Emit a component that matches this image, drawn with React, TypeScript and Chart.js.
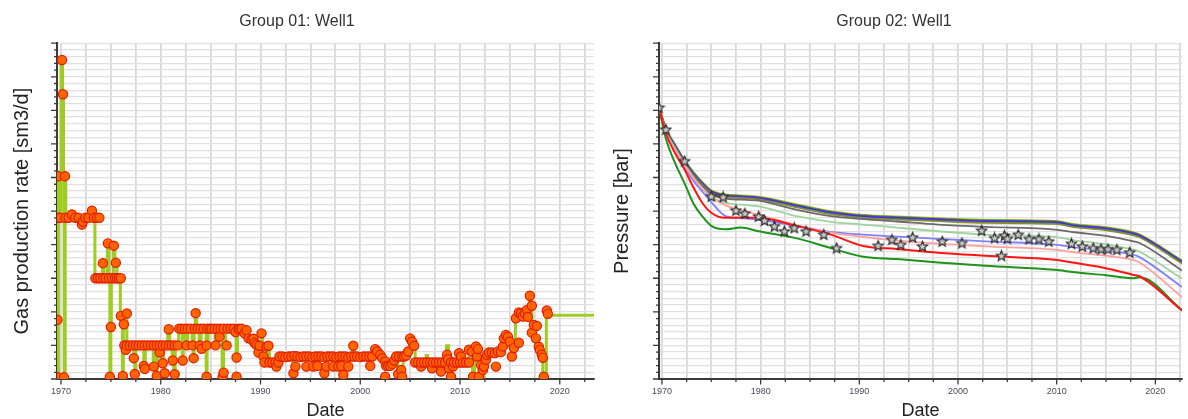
import React, { useEffect, useRef } from 'react';
import { Chart, registerables } from 'chart.js';

Chart.register(...registerables);

// ---------- Left chart: Group 01 gas production rate ----------
const leftTitle = 'Group 01: Well1';
const leftYTitle = 'Gas production rate [sm3/d]';
const xTitle = 'Date';

// history (start year, rate) held until the next entry
const rateHistory: [number, number][] = [
  [1969.6, 17.6], [1969.68, 0], [1969.74, 60], [1969.82, 48], [1970.0, 95], [1970.15, 85], [1970.25, 60],
  [1970.32, 0], [1970.42, 60], [1970.48, 48], [1972.1, 46], [1972.25, 48], [1973.05, 50], [1973.2, 48],
  [1973.4, 30], [1974.15, 34.5], [1974.3, 30], [1974.65, 40.4], [1974.8, 30], [1974.9, 0], [1975.0, 15.5],
  [1975.05, 30], [1975.25, 39.7], [1975.4, 34.6], [1975.6, 30], [1975.95, 18.8], [1976.15, 0], [1976.25, 16.3],
  [1976.45, 19.5], [1976.6, 10], [1977.3, 6], [1977.4, 0], [1977.5, 10], [1978.3, 3.5], [1978.45, 10],
  [1979.25, 3.7], [1979.35, 10], [1979.55, 0], [1979.65, 10], [1979.85, 7.9], [1979.95, 10], [1980.15, 4.7],
  [1980.3, 10], [1980.7, 14.8], [1980.9, 10], [1981.15, 5.5], [1981.3, 0], [1981.45, 10], [1981.8, 15],
  [1982.15, 5.5], [1982.25, 15], [1982.55, 10], [1982.7, 15], [1983.15, 10], [1983.25, 6.2], [1983.35, 15],
  [1983.45, 19.6], [1983.6, 15], [1983.85, 10], [1984.05, 15], [1984.55, 0.7], [1984.65, 10], [1984.75, 15],
  [1985.45, 10], [1985.6, 15], [1985.85, 12.6], [1986.0, 15], [1986.15, 0.7], [1986.3, 10], [1986.5, 15],
  [1987.55, 6.4], [1987.7, 15], [1988.3, 14.5], [1988.5, 13.5], [1988.8, 12.1], [1989.1, 11.8], [1989.4, 10.7],
  [1989.7, 7.9], [1989.8, 9.9], [1990.05, 13.6], [1990.2, 5], [1990.7, 9.7], [1990.9, 5], [1991.9, 6.7],
  [1993.25, 1.7], [1993.4, 6.7], [1999.25, 9.9], [1999.4, 6.7], [2001.4, 8.9], [2001.8, 7.2], [2002.2, 5.2],
  [2002.5, 3.9], [2003.5, 6.7], [2003.75, 1.5], [2003.9, 2.7], [2004.15, 0.7], [2004.3, 6.7], [2004.75, 8.2],
  [2004.95, 12.1], [2005.15, 11.1], [2005.3, 9.9], [2005.5, 5], [2006.6, 7], [2006.75, 5], [2008.65, 9.9],
  [2008.85, 5], [2009.8, 7.7], [2010.1, 5], [2010.9, 8.7], [2011.25, 0.7], [2011.45, 9.7], [2011.8, 8.9],
  [2011.9, 0.7], [2012.05, 4.2], [2012.3, 0.7], [2012.4, 7.2], [2012.9, 7.9], [2014.25, 9.7], [2014.4, 12.1],
  [2014.7, 13.1], [2015.0, 11.1], [2015.55, 18.1], [2015.85, 19.8], [2016.3, 18.6], [2016.6, 20.6],
  [2016.95, 24.8], [2017.1, 21.8], [2017.2, 13.8], [2017.4, 16.1], [2017.6, 12.1], [2017.85, 9.6],
  [2018.0, 8.6], [2018.15, 7.2], [2018.3, 0.7], [2018.65, 20.4], [2018.85, 19], [2023.43, 19],
];

// observed rate points (year, rate)
const rateObserved: [number, number][] = [
  [1969.65, 17.6], [1969.7, 0.5], [1969.75, 60.4], [1969.78, 48], [1969.93, 48], [1970.1, 95], [1970.2, 84.8],
  [1970.3, 0.5], [1970.4, 60.4], [1970.45, 48], [1970.76, 48], [1971.1, 49], [1971.43, 48], [1971.76, 48],
  [1972.1, 46], [1972.2, 46.9], [1972.43, 48], [1972.76, 48], [1973.1, 50.1], [1973.3, 48], [1973.6, 48],
  [1973.85, 48],
  [1973.45, 30], [1973.7, 30], [1973.95, 30], [1974.2, 34.5], [1974.25, 30], [1974.5, 30], [1974.7, 40.4],
  [1974.8, 30], [1974.9, 0.7], [1975.0, 15.5], [1975.1, 30], [1975.3, 39.7], [1975.4, 30], [1975.5, 34.6],
  [1975.6, 30], [1975.8, 30], [1976.0, 30], [1976.0, 18.8], [1976.2, 0.9], [1976.3, 16.3], [1976.6, 19.5],
  [1976.35, 10], [1976.5, 8.7], [1976.6, 10], [1976.9, 10], [1977.2, 10], [1977.3, 6.2], [1977.4, 1.5],
  [1977.5, 10], [1977.8, 10], [1978.1, 10], [1978.3, 3.9], [1978.4, 3.0], [1978.4, 10], [1978.7, 10],
  [1979.0, 10], [1979.3, 10], [1979.3, 3.7], [1979.6, 0.9], [1979.6, 10], [1979.9, 7.9], [1979.9, 10],
  [1980.2, 10], [1980.2, 4.7], [1980.4, 1.7], [1980.5, 10], [1980.8, 14.8], [1980.8, 10], [1981.1, 10],
  [1981.2, 5.5], [1981.4, 1.4], [1981.4, 10], [1981.7, 10],
  [1981.85, 15], [1982.1, 15], [1982.2, 5.5], [1982.4, 15], [1982.6, 10], [1982.7, 15], [1983.0, 15],
  [1983.2, 10], [1983.3, 6.2], [1983.4, 15], [1983.5, 19.6], [1983.7, 15], [1983.9, 10], [1984.0, 15],
  [1984.1, 9.0], [1984.3, 15], [1984.6, 10], [1984.6, 0.7], [1984.65, 15], [1984.9, 15], [1985.1, 15],
  [1985.4, 15], [1985.5, 10], [1985.7, 15], [1985.9, 12.6], [1986.0, 15], [1986.2, 0.7], [1986.3, 15],
  [1986.3, 1.9], [1986.6, 10], [1986.7, 15], [1987.0, 15], [1987.3, 15], [1987.5, 14], [1987.6, 6.4],
  [1987.6, 0.7], [1987.8, 15], [1987.9, 14.8], [1988.1, 15], [1988.4, 13.6], [1988.6, 14.5], [1988.8, 12.1],
  [1989.1, 11.8], [1989.3, 12], [1989.4, 10.7], [1989.6, 10.2], [1989.8, 7.9], [1989.9, 9.9], [1990.1, 13.6],
  [1990.3, 6.7], [1990.6, 9.7], [1990.4, 4.9], [1990.8, 9.9], [1990.9, 4.9], [1991.2, 4.9], [1991.5, 4.9],
  [1991.6, 3.7], [1991.8, 4.9],
  [1991.9, 6.7], [1992.2, 6.7], [1992.5, 6.5], [1992.8, 6.7], [1993.1, 6.7], [1993.3, 1.7], [1993.4, 6.9],
  [1993.5, 3.7], [1993.7, 6.7], [1994.0, 6.5], [1994.3, 6.7], [1994.6, 3.7], [1994.6, 6.7], [1994.9, 6.7],
  [1995.2, 6.5], [1995.3, 3.7], [1995.5, 6.7], [1995.7, 3.9], [1995.8, 6.7], [1996.1, 6.7], [1996.4, 1.7],
  [1996.4, 6.5], [1996.6, 3.7], [1996.7, 6.7], [1997.0, 6.7], [1997.3, 3.7], [1997.3, 6.7], [1997.6, 6.5],
  [1997.8, 3.7], [1997.9, 6.7], [1998.1, 3.9], [1998.2, 6.7], [1998.3, 1.2], [1998.5, 6.7], [1998.8, 3.7],
  [1998.8, 6.5], [1999.1, 6.7], [1999.3, 9.9], [1999.4, 6.7], [1999.7, 6.7], [2000.0, 6.5], [2000.3, 6.7],
  [2000.6, 6.7], [2000.9, 6.7], [2001.0, 3.9], [2001.2, 6.7], [2001.5, 8.9], [2001.7, 8.2], [2002.0, 7.2],
  [2002.2, 6.2], [2002.5, 5.2], [2002.6, 3.9], [2002.5, 0.7], [2002.8, 3.9], [2003.0, 3.9], [2003.2, 4.5],
  [2003.4, 5.5], [2003.6, 6.7], [2003.8, 1.5], [2003.9, 6.7], [2004.1, 2.7], [2004.2, 0.7], [2004.2, 6.7],
  [2004.4, 6.7], [2004.6, 7.0], [2004.8, 8.2], [2005.0, 12.1], [2005.2, 11.1], [2005.4, 9.9],
  [2005.5, 4.9], [2005.8, 4.9], [2006.1, 3.7], [2006.1, 4.9], [2006.4, 4.9], [2006.7, 4.9], [2007.0, 4.9],
  [2007.2, 3.2], [2007.3, 4.9], [2007.6, 4.9], [2007.9, 4.9], [2008.1, 2.2], [2008.2, 4.9], [2008.5, 4.9],
  [2008.7, 7.2], [2008.8, 5.9], [2008.9, 3.2], [2009.1, 0.7], [2009.1, 4.9], [2009.3, 3.7], [2009.4, 4.9],
  [2009.7, 4.9], [2009.9, 7.7], [2010.0, 4.9], [2010.1, 6.7], [2010.3, 4.9], [2010.6, 4.9], [2010.9, 8.7],
  [2010.9, 4.9],
  [2011.2, 8.2], [2011.3, 0.7], [2011.6, 9.7], [2011.7, 6.7], [2011.8, 8.9], [2011.9, 0.7], [2012.1, 4.2],
  [2012.3, 2.7], [2012.4, 3.7], [2012.6, 5.7], [2012.7, 7.2], [2012.9, 7.9], [2013.2, 7.9], [2013.5, 7.7],
  [2013.6, 3.7], [2013.8, 8.2], [2014.1, 8.0], [2014.3, 9.7], [2014.4, 12.1], [2014.6, 13.1], [2014.8, 12.6],
  [2015.0, 11.1], [2015.2, 6.7], [2015.4, 9.2], [2015.9, 10.8],
  [2015.6, 18.1], [2015.9, 19.8], [2016.1, 19.5], [2016.3, 18.6], [2016.5, 19.6], [2016.7, 20.6],
  [2016.8, 18.5], [2017.0, 24.8], [2017.2, 21.8], [2017.2, 13.8], [2017.4, 16.1], [2017.7, 15.8],
  [2017.6, 12.1], [2017.9, 9.6], [2018.0, 8.6], [2018.2, 7.2], [2018.3, 6.3], [2018.4, 0.7], [2018.7, 20.4],
  [2018.8, 19.4],
];

// ---------- Right chart: Group 02 pressure ----------
const rightTitle = 'Group 02: Well1';
const rightYTitle = 'Pressure [bar]';

const pressYears = [1969.7, 1970.4, 1971.3, 1972.3, 1973.2, 1974.1, 1975.0, 1976.4, 1978.0, 1979.8, 1983.8,
  1987.1, 1990.4, 1993.8, 1998.0, 2002.8, 2009.8, 2011.8, 2015.0, 2017.8, 2018.4, 2022.7];

const pressYellow = [81.3, 74.7, 70.0, 65.2, 61.6, 58.6, 56.2, 55.0, 54.7, 54.3, 51.9, 50.0, 48.9, 48.4, 47.9, 47.4, 47.1, 46.1, 45.2, 43.7, 43.1, 35.3];
const pressGreenTop = [81.1, 74.5, 69.8, 65.0, 61.4, 58.4, 56.0, 54.8, 54.5, 54.1, 51.7, 49.8, 48.7, 48.2, 47.7, 47.2, 46.9, 45.9, 45.0, 43.5, 42.9, 35.1];
const pressPurple = [80.9, 74.3, 69.6, 64.8, 61.2, 58.2, 55.8, 54.6, 54.3, 53.9, 51.5, 49.6, 48.5, 48.0, 47.5, 47.0, 46.7, 45.7, 44.8, 43.3, 42.7, 34.9];
const pressBlue = [80.8, 74.1, 69.4, 64.6, 61.0, 58.0, 55.6, 54.4, 54.1, 53.7, 51.3, 49.4, 48.3, 47.8, 47.3, 46.8, 46.5, 45.5, 44.6, 43.1, 42.5, 34.7];
const pressOlive = [80.7, 73.9, 69.2, 64.4, 60.8, 57.8, 55.4, 54.2, 53.9, 53.5, 51.0, 49.1, 48.0, 47.5, 47.0, 46.5, 46.2, 45.2, 44.3, 42.8, 42.2, 34.4];
const pressGray = [80.9, 73.9, 69.1, 64.3, 60.6, 57.5, 55.0, 53.7, 53.4, 53.1, 50.3, 48.5, 47.6, 46.9, 46.0, 45.3, 44.5, 43.7, 42.6, 41.0, 40.5, 32.3];
const pressLightGreen = [80.9, 73.7, 68.8, 63.9, 60.0, 56.8, 54.3, 52.5, 51.9, 51.4, 48.4, 46.8, 46.0, 45.1, 44.0, 43.0, 42.3, 41.3, 40.1, 38.5, 37.9, 29.9];
const pressLightBlue = [80.9, 73.4, 68.0, 63.0, 59.0, 55.8, 52.7, 48.6, 47.9, 47.4, 45.5, 43.8, 43.0, 42.4, 41.7, 41.0, 40.0, 39.2, 38.2, 37.0, 36.3, 27.4];
const pressPink = [80.9, 73.4, 68.2, 63.5, 59.8, 56.8, 54.2, 51.8, 50.3, 48.9, 45.7, 43.6, 42.3, 41.2, 40.3, 39.5, 38.5, 37.7, 36.7, 35.4, 34.7, 24.4];
const pressRed = [80.9, 73.2, 67.4, 62.3, 57.0, 52.4, 49.5, 48.0, 48.1, 48.0, 45.5, 43.0, 39.6, 38.7, 37.6, 36.7, 35.5, 34.6, 33.0, 31.0, 30.6, 20.4];
const pressGreen = [80.9, 71.6, 64.5, 58.2, 52.2, 48.4, 45.6, 44.6, 45.1, 44.0, 41.8, 39.0, 36.4, 35.7, 34.7, 33.7, 32.5, 31.8, 30.9, 30.0, 30.3, 20.5];

const pressObsYears = [1969.7, 1970.4, 1972.3, 1975.0, 1976.2, 1977.5, 1978.4, 1979.8, 1980.4, 1981.4, 1982.4,
  1983.4, 1984.6, 1986.4, 1987.7, 1991.9, 1993.3, 1994.2, 1995.4, 1996.4, 1998.4, 2000.4, 2002.4, 2003.7,
  2004.4, 2004.7, 2005.0, 2006.1, 2007.2, 2008.2, 2009.2, 2011.5, 2012.6, 2013.7, 2014.5, 2015.2, 2016.1, 2017.4];
const pressObs = [80.8, 74.3, 64.9, 54.4, 54.2, 50.2, 49.3, 48.4, 47.2, 45.5, 44.0, 45.0, 44.0, 43.0, 39.0, 39.7,
  41.5, 40.0, 42.2, 39.5, 41.0, 40.5, 44.2, 42.0, 36.7, 42.7, 41.8, 43.0, 41.7, 41.7, 41.0, 40.3, 39.5, 39.0,
  38.7, 38.7, 38.5, 37.7];

const FONT = "'Liberation Sans', Arial, sans-serif";

const isDecade = (v: number) => Math.abs(v / 10 - Math.round(v / 10)) < 1e-6;

const tickMarks = {
  id: 'tickMarks',
  afterDraw(chart: any) {
    const { ctx, scales } = chart;
    const x = scales.x;
    const y = scales.y;
    ctx.save();
    ctx.strokeStyle = '#3a3a3a';
    ctx.lineWidth = 1.3;
    ctx.beginPath();
    for (const t of y.ticks) {
      const py = y.getPixelForValue(t.value);
      const len = isDecade(t.value) ? 6 : 3;
      ctx.moveTo(y.right - len, py);
      ctx.lineTo(y.right, py);
    }
    for (const t of x.ticks) {
      const px = x.getPixelForValue(t.value);
      const len = isDecade(t.value) ? 5.5 : 3;
      ctx.moveTo(px, x.top);
      ctx.lineTo(px, x.top + len);
    }
    ctx.stroke();
    ctx.restore();
  },
};

function makeStar(): HTMLCanvasElement {
  const c = document.createElement('canvas');
  c.width = 13;
  c.height = 13;
  const g = c.getContext('2d')!;
  g.beginPath();
  for (let i = 0; i < 10; i++) {
    const r = i % 2 === 0 ? 5.4 : 2.4;
    const a = -Math.PI / 2 + (i * Math.PI) / 5;
    const px = 6.5 + r * Math.cos(a);
    const py = 6.9 + r * Math.sin(a);
    if (i === 0) g.moveTo(px, py);
    else g.lineTo(px, py);
  }
  g.closePath();
  g.fillStyle = '#c8c8c8';
  g.fill();
  g.strokeStyle = '#2e2e2e';
  g.lineWidth = 1.2;
  g.stroke();
  return c;
}

function baseOptions(title: string, yTitle: string, xmin: number, xmax: number, yWidth: number, padRight: number) {
  return {
    responsive: false,
    animation: false as const,
    layout: { padding: { left: 0, right: padRight, top: 0, bottom: 0 } },
    plugins: {
      legend: { display: false },
      tooltip: { enabled: false },
      title: {
        display: true,
        text: title,
        color: '#333333',
        font: { family: FONT, size: 16, weight: 'normal' as const },
        padding: { top: 12, bottom: 12 },
      },
    },
    scales: {
      x: {
        type: 'linear' as const,
        min: xmin,
        max: xmax,
        afterFit: (s: any) => {
          s.height = 40;
        },
        ticks: {
          stepSize: 2.5,
          includeBounds: false,
          autoSkip: false,
          maxRotation: 0,
          padding: 7,
          color: '#4a4a5c',
          font: { family: FONT, size: 9 },
          callback: (v: any) => (isDecade(Number(v)) ? String(Math.round(Number(v))) : ''),
        },
        grid: { color: '#d6d6d6', lineWidth: 1.7, drawTicks: false },
        border: { color: '#3a3a3a', width: 2 },
        title: {
          display: true,
          text: xTitle,
          color: '#222222',
          font: { family: FONT, size: 18 },
          padding: { top: 0, bottom: -3 },
        },
      },
      y: {
        type: 'linear' as const,
        min: 0,
        max: 100,
        afterFit: (s: any) => {
          s.width = yWidth;
        },
        ticks: { display: false, stepSize: 2 },
        grid: { color: '#e0e0e0', lineWidth: 1.3, drawTicks: false },
        border: { color: '#3a3a3a', width: 2 },
        title: {
          display: true,
          text: yTitle,
          color: '#222222',
          font: { family: FONT, size: 20 },
          padding: { top: 10, bottom: 0 },
        },
      },
    },
  };
}

function LeftChart() {
  const ref = useRef<HTMLCanvasElement>(null);
  useEffect(() => {
    const chart = new Chart(ref.current!, {
      type: 'scatter',
      data: {
        datasets: [
          {
            data: rateObserved.map(([x, y]) => ({ x, y })),
            showLine: false,
            pointRadius: 4.6,
            pointBackgroundColor: '#ff6400',
            pointBorderColor: '#e01c00',
            pointBorderWidth: 1.2,
          },
          {
            data: rateHistory.map(([x, y]) => ({ x, y })),
            showLine: true,
            stepped: true,
            borderColor: '#9fcb22',
            borderWidth: 3,
            pointRadius: 0,
          },
        ],
      },
      options: baseOptions(leftTitle, leftYTitle, 1969.6, 2023.43, 57, 6) as any,
      plugins: [tickMarks],
    });
    return () => chart.destroy();
  }, []);
  return <canvas ref={ref} width={600} height={419} style={{ position: 'absolute', left: 0, top: 0 }} />;
}

function RightChart() {
  const ref = useRef<HTMLCanvasElement>(null);
  useEffect(() => {
    const star = makeStar();
    const line = (vals: number[], color: string, width: number) => ({
      data: pressYears.map((x, i) => ({ x, y: vals[i] })),
      showLine: true,
      borderColor: color,
      borderWidth: width,
      pointRadius: 0,
      cubicInterpolationMode: 'monotone' as const,
    });
    const chart = new Chart(ref.current!, {
      type: 'scatter',
      data: {
        datasets: [
          {
            data: pressObsYears.map((x, i) => ({ x, y: pressObs[i] })),
            showLine: false,
            pointStyle: star as any,
            pointRadius: 5,
          },
          line(pressRed, '#ff1414', 2),
          line(pressGreen, '#1c941c', 2),
          line(pressPink, '#ffa0a0', 1.8),
          line(pressLightBlue, '#8080ff', 1.8),
          line(pressLightGreen, '#9ed49e', 1.8),
          line(pressGray, '#6a6a6a', 1.8),
          line(pressOlive, '#8a8a30', 1.8),
          line(pressBlue, '#1f3cff', 1.8),
          line(pressPurple, '#8020c0', 1.8),
          line(pressGreenTop, '#2f922f', 1.8),
          line(pressYellow, '#b0b020', 1.8),
        ],
      },
      options: baseOptions(rightTitle, rightYTitle, 1969.7, 2022.7, 59, 0) as any,
      plugins: [tickMarks],
    });
    return () => chart.destroy();
  }, []);
  return <canvas ref={ref} width={588} height={419} style={{ position: 'absolute', left: 600, top: 0 }} />;
}

export default function App() {
  return (
    <div style={{ position: 'absolute', left: 0, top: 0, width: 1188, height: 419, background: '#ffffff', overflow: 'hidden' }}>
      <LeftChart />
      <RightChart />
    </div>
  );
}
